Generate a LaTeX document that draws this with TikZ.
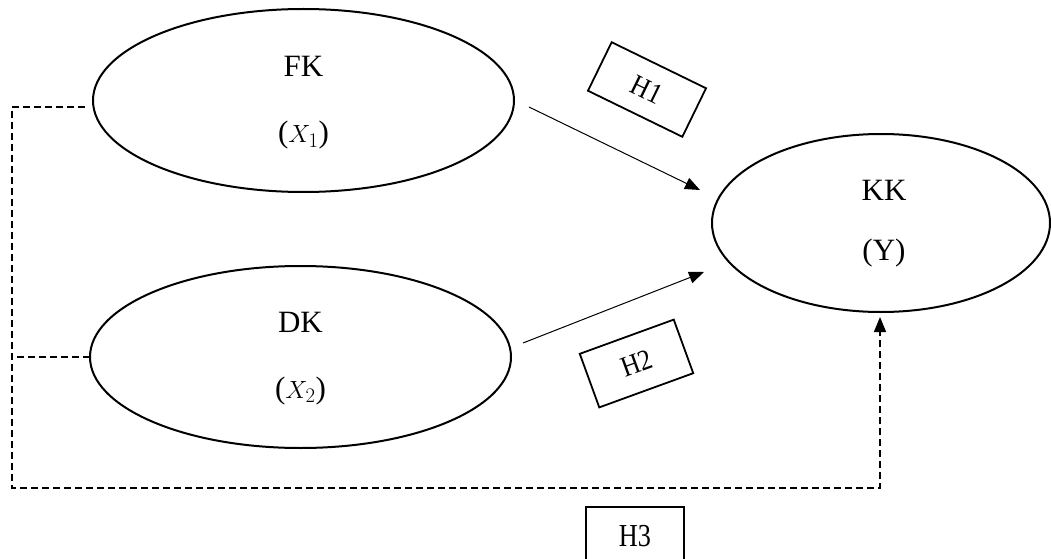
\documentclass[tikz,border=0pt]{standalone}
\usepackage{fontspec}
\setmainfont{Liberation Serif}
\usetikzlibrary{shapes.geometric,arrows.meta}
\begin{document}
\begin{tikzpicture}[x=1pt,y=1pt,
  oval/.style={ellipse,draw,line width=2pt,inner sep=0pt},
  lbl/.style={anchor=base,inner sep=0pt,font=\fontsize{31}{34}\selectfont},
  hbox/.style={draw,line width=1.8pt,inner sep=0pt,font=\fontsize{29}{32}\selectfont},
  link/.style={line width=1pt,-{Triangle[length=15pt,width=12pt]}},
  dashlink/.style={line width=1.5pt,dash pattern=on 7pt off 4pt}]
\useasboundingbox (0,0) rectangle (1051,558);
% ellipses
\node[oval,minimum width=421pt,minimum height=183pt] (fk) at (303.5,457.5) {};
\node[oval,minimum width=421pt,minimum height=182pt] (dk) at (300.5,201) {};
\node[oval,minimum width=338pt,minimum height=178pt] (kk) at (881,335) {};
% texts
\node[lbl] (fkt) at (303.5,481) {FK};
\node[lbl] (fkx) at (303.5,415) {($X_1$)};
\node[lbl] (dkt) at (300.5,226) {DK};
\node[lbl] (dkx) at (300.5,160) {($X_2$)};
\node[lbl] (kkt) at (884,358) {KK};
\node[lbl] (kky) at (884,298) {(Y)};
% hypothesis boxes
\node[hbox,minimum width=105pt,minimum height=54pt,rotate=-26] (h1) at (647,468.5) {\scalebox{0.88}[1]{H1}};
\node[hbox,minimum width=100pt,minimum height=57pt,rotate=20] (h2) at (636.5,194.5) {\scalebox{0.88}[1]{H2}};
\node[hbox,minimum width=98pt,minimum height=58pt,font=\fontsize{32}{34}\selectfont] (h3) at (635,22) {\scalebox{0.82}[1]{H3}};
% arrow end points
\coordinate (a1s) at (529,451);
\coordinate (a1e) at (700,368);
\coordinate (a2s) at (523,215);
\coordinate (a2e) at (704,286);
\draw[link] (a1s) -- (a1e);
\draw[link] (a2s) -- (a2e);
% dashed connections
\coordinate (d1) at (85,451);
\coordinate (d2) at (90,201);
\coordinate (c1) at (12,451);
\coordinate (c2) at (15,201);
\coordinate (c3) at (12,70);
\coordinate (c4) at (880,70);
\coordinate (c5) at (880,241);
\draw[dashlink,-{Triangle[length=15pt,width=12pt]}] (d1) -- (c1) -- (c3) -- (c4) -- (c5);
\draw[dashlink] (d2) -- (c2);
\end{tikzpicture}
\end{document}
